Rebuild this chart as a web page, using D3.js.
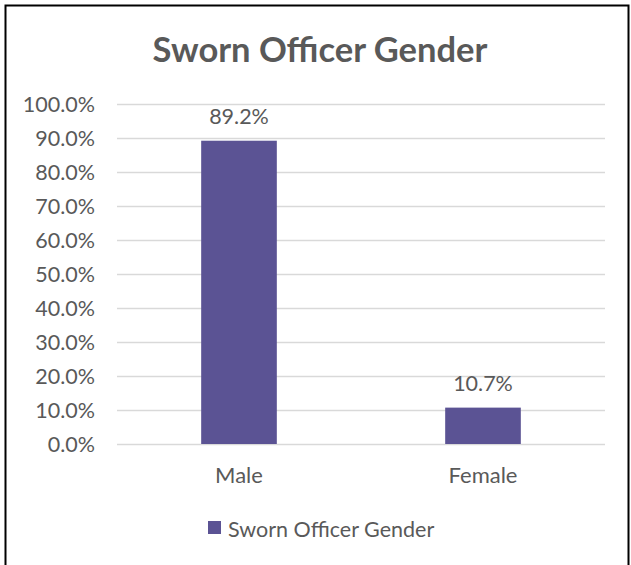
<!DOCTYPE html>
<html>
<head>
<meta charset="utf-8">
<script src="https://cdn.jsdelivr.net/npm/d3@7"></script>
<style>
  body { margin: 0; background: #fff; }
  svg text { font-family: Lato, "Open Sans", sans-serif; fill: #595959; }
</style>
</head>
<body>
<svg id="chart" width="631" height="565"></svg>
<script>
// data
const categories = ["Male", "Female"];
const values = [0.892, 0.107];
const valueLabels = ["89.2%", "10.7%"];
const yTicks = [0, 0.1, 0.2, 0.3, 0.4, 0.5, 0.6, 0.7, 0.8, 0.9, 1.0];
const seriesName = "Sworn Officer Gender";

const svg = d3.select("#chart");
const barColor = "#5b5394";

// outer frame
svg.append("rect")
  .attr("x", 5.5).attr("y", 5.5)
  .attr("width", 623).attr("height", 580)
  .attr("fill", "#fff").attr("stroke", "#000").attr("stroke-width", 2);

// title
svg.append("text")
  .attr("x", 320).attr("y", 62)
  .attr("text-anchor", "middle")
  .style("font-size", "34.5px").style("font-weight", "bold")
  .text("Sworn Officer Gender");

const x = d3.scaleBand().domain(categories).range([117, 605]).paddingInner(0.69).paddingOuter(0.345);
const y = d3.scaleLinear().domain([0, 1]).range([444, 104]);

// gridlines
svg.append("g")
  .selectAll("line")
  .data(yTicks)
  .join("line")
  .attr("x1", 117).attr("x2", 605)
  .attr("y1", d => Math.round(y(d)) + 0.5).attr("y2", d => Math.round(y(d)) + 0.5)
  .attr("stroke", "#d9d9d9").attr("stroke-width", 1.5);

// y axis labels
svg.append("g")
  .selectAll("text")
  .data(yTicks)
  .join("text")
  .attr("x", 95).attr("y", d => y(d) + 8)
  .attr("text-anchor", "end")
  .style("font-size", "21.5px")
  .text(d => d3.format(".1%")(d));

// bars
svg.append("g")
  .selectAll("rect")
  .data(values)
  .join("rect")
  .attr("x", (d, i) => x(categories[i]))
  .attr("y", d => y(d))
  .attr("width", x.bandwidth())
  .attr("height", d => y(0) - y(d))
  .attr("fill", barColor);

// value labels
svg.append("g")
  .selectAll("text")
  .data(values)
  .join("text")
  .attr("x", (d, i) => x(categories[i]) + x.bandwidth() / 2)
  .attr("y", d => y(d) - 17)
  .attr("text-anchor", "middle")
  .style("font-size", "21.5px")
  .text((d, i) => valueLabels[i]);

// category labels
svg.append("g")
  .selectAll("text")
  .data(categories)
  .join("text")
  .attr("x", d => x(d) + x.bandwidth() / 2)
  .attr("y", 483)
  .attr("text-anchor", "middle")
  .style("font-size", "22px")
  .text(d => d);

// legend
svg.append("rect")
  .attr("x", 208).attr("y", 521)
  .attr("width", 13).attr("height", 13)
  .attr("fill", barColor);
svg.append("text")
  .attr("x", 228).attr("y", 537)
  .style("font-size", "21.5px")
  .text(seriesName);
</script>
</body>
</html>
